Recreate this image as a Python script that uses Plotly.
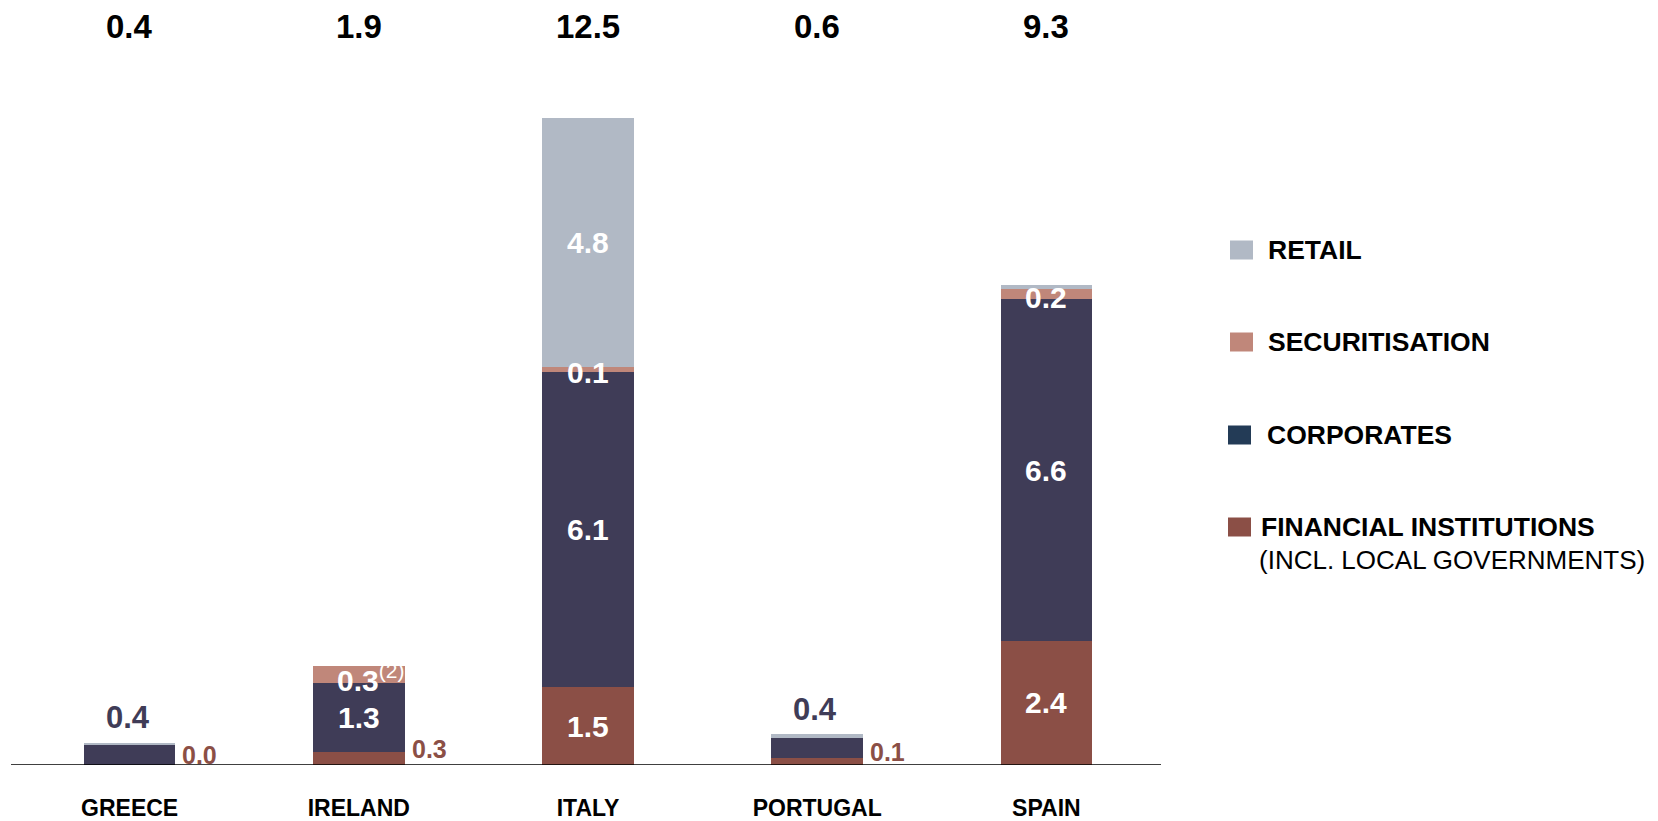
import plotly.graph_objects as go

# ---- data ----
countries = ["GREECE", "IRELAND", "ITALY", "PORTUGAL", "SPAIN"]
financial_institutions = [0.0, 0.25, 1.5, 0.13, 2.4]
corporates = [0.38, 1.33, 6.1, 0.4, 6.6]
securitisation = [0.0, 0.33, 0.1, 0.0, 0.2]
retail = [0.05, 0.0, 4.8, 0.06, 0.08]
totals = ["0.4", "1.9", "12.5", "0.6", "9.3"]

fi_labels = ["0.0", "0.3", "1.5", "0.1", "2.4"]
corp_labels = ["0.4", "1.3", "6.1", "0.4", "6.6"]
sec_labels = ["", "0.3", "0.1", "", "0.2"]
sec_notes = ["", "(2)", "", "", ""]
retail_labels = ["", "", "4.8", "", ""]

# ---- styles ----
C_RETAIL = "#B1B9C5"
C_SEC = "#C0877A"
C_CORP = "#3F3C57"
C_CORP_LEG = "#233B56"
C_FI = "#8B4F46"
FONT = "Liberation Sans, Arial, sans-serif"

OFF = 8  # page body margin
W, H = 1658 - OFF, 821 - OFF
ML = 15 - OFF
PW = 1146
MR = W - ML - PW
MB = 56
MT = 0
PH = H - MT - MB
YMAX = PH / 51.75


def px_x(p):  # page x -> paper
    return (p - OFF - ML) / PW


def px_y(p):  # page y -> paper
    return (H - MB - (p - OFF)) / PH


fig = go.Figure()
for name, vals, col in [("FINANCIAL INSTITUTIONS", financial_institutions, C_FI),
                        ("CORPORATES", corporates, C_CORP),
                        ("SECURITISATION", securitisation, C_SEC),
                        ("RETAIL", retail, C_RETAIL)]:
    fig.add_trace(go.Bar(x=countries, y=vals, name=name, marker=dict(color=col, line=dict(width=0)),
                         width=0.4, showlegend=False, hoverinfo="x+y+name"))

ann = []
# totals on top
for c, t in zip(countries, totals):
    ann.append(dict(x=c, y=px_y(27), xref="x", yref="paper", yanchor="middle", xanchor="center",
                    text=f"<b>{t}</b>", showarrow=False,
                    font=dict(size=33, color="#000000", family=FONT)))

for i, c in enumerate(countries):
    fi = financial_institutions[i]
    co = corporates[i]
    se = securitisation[i]
    re = retail[i]
    top = fi + co + se + re
    # financial institutions
    if fi >= 1.0:
        ann.append(dict(x=c, y=fi / 2, yanchor="middle", text=f"<b>{fi_labels[i]}</b>", showarrow=False,
                        font=dict(size=30, color="white", family=FONT)))
    else:
        ann.append(dict(x=i + 0.2, y=fi / 2, xanchor="left", yanchor="middle", xshift=5, yshift=10,
                        text=f"<b>{fi_labels[i]}</b>", showarrow=False,
                        font=dict(size=25, color=C_FI, family=FONT)))
    # corporates
    if co >= 1.0:
        ann.append(dict(x=c, y=fi + co / 2, yanchor="middle", text=f"<b>{corp_labels[i]}</b>", showarrow=False,
                        font=dict(size=30, color="white", family=FONT)))
    else:
        ann.append(dict(x=c, y=top, yanchor="middle", yshift=25, xshift=-2,
                        text=f"<b>{corp_labels[i]}</b>", showarrow=False,
                        font=dict(size=31, color=C_CORP, family=FONT)))
    # securitisation
    if sec_labels[i]:
        txt = f"<b>{sec_labels[i]}</b>"
        xs = 0
        if sec_notes[i]:
            txt += f"<sup>{sec_notes[i]}</sup>"
            xs = 12
        ann.append(dict(x=c, y=fi + co + se / 2, yanchor="middle", text=txt, showarrow=False,
                        yshift=-3, xshift=xs, font=dict(size=30, color="white", family=FONT)))
    # retail
    if retail_labels[i]:
        ann.append(dict(x=c, y=fi + co + se + re / 2, yanchor="middle", text=f"<b>{retail_labels[i]}</b>",
                        showarrow=False, font=dict(size=30, color="white", family=FONT)))

# custom legend
shapes = []
leg = [("RETAIL", C_RETAIL, 1230, 250, 1268),
       ("SECURITISATION", C_SEC, 1230, 342, 1268),
       ("CORPORATES", C_CORP_LEG, 1228, 435, 1267),
       ("FINANCIAL INSTITUTIONS", C_FI, 1228, 527, 1261)]
for name, col, sx, cy, tx in leg:
    shapes.append(dict(type="rect", xref="paper", yref="paper",
                       x0=px_x(sx), x1=px_x(sx + 23), y0=px_y(cy + 9.5), y1=px_y(cy - 9.5),
                       fillcolor=col, line=dict(width=0)))
    ann.append(dict(xref="paper", yref="paper", x=px_x(tx - 2), y=px_y(cy), xanchor="left", yanchor="middle",
                    text=f"<b>{name}</b>", showarrow=False,
                    font=dict(size=26.5, color="#000000", family=FONT)))
ann.append(dict(xref="paper", yref="paper", x=px_x(1257), y=px_y(560), xanchor="left", yanchor="middle",
                text="(INCL. LOCAL GOVERNMENTS)", showarrow=False,
                font=dict(size=26, color="#000000", family=FONT)))

# baseline axis line
shapes.append(dict(type="line", xref="paper", yref="y", x0=px_x(11), x1=px_x(1161), y0=0, y1=0,
                   line=dict(color="#000000", width=1.5)))

fig.update_layout(
    width=W, height=H,
    margin=dict(l=ML, r=MR, t=MT, b=MB, pad=0, autoexpand=False),
    barmode="stack",
    plot_bgcolor="white", paper_bgcolor="white",
    annotations=ann, shapes=shapes,
    xaxis=dict(range=[-0.5, 4.5], showline=False, showgrid=False, zeroline=False, ticks="",
               automargin=False, ticklabelstandoff=27,
               tickfont=dict(size=23, color="#000000", family=FONT),
               tickvals=countries, ticktext=[f"<b>{c}</b>" for c in countries]),
    yaxis=dict(range=[0, YMAX], visible=False, showgrid=False, zeroline=False, automargin=False),
    font=dict(family=FONT),
)

fig.write_html("out.html")
